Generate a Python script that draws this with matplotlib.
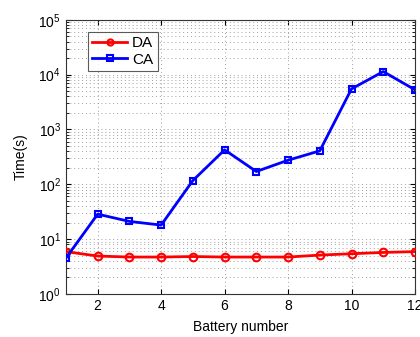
import numpy as np
import matplotlib
matplotlib.use("Agg")
import matplotlib.pyplot as plt

plt.rcParams['font.family'] = ['Liberation Sans', 'DejaVu Sans']

# ------------------ Data ------------------
battery = [1, 2, 3, 4, 5, 6, 7, 8, 9, 10, 11, 12]
da_time = [5.9, 4.9, 4.7, 4.7, 4.8, 4.7, 4.7, 4.7, 5.1, 5.4, 5.7, 5.9]
ca_time = [4.5, 28.5, 21, 18, 117, 425, 171, 275, 407, 5500, 11400, 5300]
xticks = [2, 4, 6, 8, 10, 12]

# ------------------ Plot ------------------
fig = plt.figure(figsize=(4.2, 3.37), dpi=100)
ax = fig.add_axes([0.157, 0.128, 0.831, 0.813])

ax.plot(battery, da_time, color='#ff0000', lw=2, marker='o', ms=5.5,
        mfc='none', mec='#ff0000', mew=1.5, label='DA', zorder=3)
ax.plot(battery, ca_time, color='#0000ff', lw=2, marker='s', ms=5,
        mfc='none', mec='#0000ff', mew=1.5, label='CA', zorder=3)

ax.set_yscale('log')
ax.set_xlim(1, 12)
ax.set_ylim(1, 1e5)
ax.set_xticks(xticks)
ax.set_yticks([1e0, 1e1, 1e2, 1e3, 1e4, 1e5])

ax.grid(True, which='major', ls=(0, (1, 3)), color='#a0a0a0', lw=0.7)
ax.grid(True, which='minor', axis='y', ls=(0, (1, 3)), color='#a0a0a0', lw=0.7)
ax.tick_params(which='both', direction='in', labelsize=10, top=True, right=True)
ax.tick_params(which='minor', length=2)
for s in ax.spines.values():
    s.set_color('#333333')
    s.set_linewidth(0.8)

ax.set_xlabel('Battery number', fontsize=10, labelpad=5)
ax.set_ylabel('Time(s)', fontsize=10, labelpad=8)

leg = ax.legend(loc='upper left', bbox_to_anchor=(0.04, 0.985), fontsize=11,
                frameon=True, fancybox=False, edgecolor='#333333',
                handlelength=2.3, handletextpad=0.3, borderpad=0.3,
                labelspacing=0.15, markerscale=0.8)
leg.get_frame().set_linewidth(0.8)

fig.savefig('out.png', dpi=100)
